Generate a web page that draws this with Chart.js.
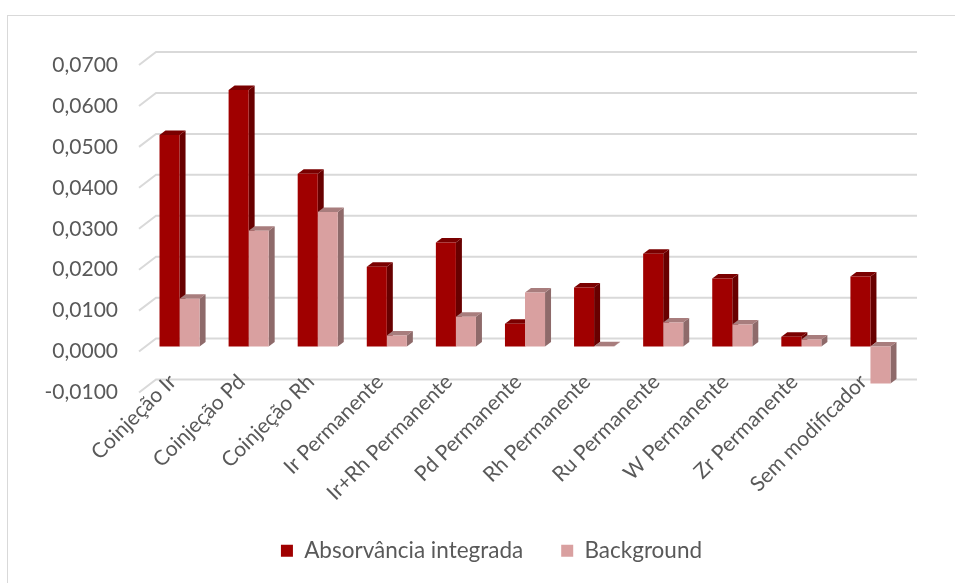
<!DOCTYPE html>
<html>
<head>
<meta charset="utf-8">
<script src="https://cdn.jsdelivr.net/npm/chart.js@4"></script>
<style>
    html, body { margin: 0; padding: 0; background: #fff; }
    #frame { position: absolute; left: 7px; top: 15px; width: 1000px; height: 620px; border: 1.5px solid #d9d9d9; }
    #wrap { position: absolute; left: 0; top: 0; width: 955px; height: 583px; }
</style>
</head>
<body>
<div id="frame"></div>
<div id="wrap"><canvas id="absChart"></canvas></div>
<script>
const categories = ['Coinjeção Ir', 'Coinjeção Pd', 'Coinjeção Rh', 'Ir Permanente', 'Ir+Rh Permanente',
    'Pd Permanente', 'Rh Permanente', 'Ru Permanente', 'W Permanente', 'Zr Permanente', 'Sem modificador'];
const absorvancia = [0.0517, 0.0627, 0.0422, 0.0195, 0.0254, 0.0056, 0.0144, 0.0227, 0.0166, 0.0024, 0.0171];
const background = [0.0117, 0.0283, 0.0329, 0.0027, 0.0073, 0.0132, 0.0001, 0.0059, 0.0054, 0.0017, -0.0090];
const yTicks = [-0.01, 0, 0.01, 0.02, 0.03, 0.04, 0.05, 0.06, 0.07];

const FONT = 'Lato, "Open Sans", sans-serif';
const TEXT = '#595959';

// faces of each 3D bar: [front, side, top]
const faces = [
    ['#a00000', '#680000', '#7a0000'],
    ['#d9a0a0', '#8e6a6a', '#a87d7d']
];

// back wall grid (under the labels) and the side/top faces of the bars
const depth3d = {
    id: 'depth3d',
    beforeDraw(chart) {
        const ctx = chart.ctx;
        const area = chart.chartArea;
        const y = chart.scales.y;
        ctx.save();
        ctx.strokeStyle = '#d9d9d9';
        ctx.lineWidth = 2;
        yTicks.forEach(v => {
            const py = y.getPixelForValue(v);
            ctx.beginPath();
            ctx.moveTo(area.left - 6, py + 5);
            ctx.lineTo(area.left + 11, py - 8);
            ctx.lineTo(area.right + 12, py - 8);
            ctx.stroke();
        });
        ctx.restore();
    },
    beforeDatasetsDraw(chart) {
        const ctx = chart.ctx;
        const dx = 6, dy = 4.5;
        ctx.save();
        chart.data.datasets.forEach((ds, di) => {
            chart.getDatasetMeta(di).data.forEach(bar => {
                const p = bar.getProps(['x', 'y', 'base', 'width'], true);
                const l = p.x - p.width / 2, r = p.x + p.width / 2;
                const top = Math.min(p.y, p.base), bot = Math.max(p.y, p.base);
                ctx.fillStyle = faces[di][1];
                ctx.beginPath();
                ctx.moveTo(r, top);
                ctx.lineTo(r + dx, top - dy);
                ctx.lineTo(r + dx, bot - dy);
                ctx.lineTo(r, bot);
                ctx.closePath();
                ctx.fill();
                ctx.fillStyle = faces[di][2];
                ctx.beginPath();
                ctx.moveTo(l, top);
                ctx.lineTo(l + dx, top - dy);
                ctx.lineTo(r + dx, top - dy);
                ctx.lineTo(r, top);
                ctx.closePath();
                ctx.fill();
            });
        });
        ctx.restore();
    }
};

new Chart(document.getElementById('absChart'), {
    type: 'bar',
    data: {
        labels: categories,
        datasets: [
            {label: 'Absorvância integrada', data: absorvancia, backgroundColor: faces[0][0]},
            {label: 'Background', data: background, backgroundColor: faces[1][0]}
        ]
    },
    options: {
        responsive: true,
        maintainAspectRatio: false,
        animation: false,
        layout: { padding: { top: 60, right: 0, bottom: 11, left: 28 } },
        datasets: { bar: { categoryPercentage: 0.58, barPercentage: 1.0 } },
        scales: {
            x: {
                grid: { display: false, drawTicks: false },
                border: { display: false },
                ticks: {
                    color: TEXT, font: { family: FONT, size: 21 },
                    maxRotation: 45, minRotation: 45, padding: -18, labelOffset: -7
                },
                afterFit(scale) {
                    scale.height = 114;
                    // labels sit partly over the floor, so don't clip them to the axis box
                    scale._computeLabelArea = () => undefined;
                }
            },
            y: {
                min: -0.01, max: 0.07,
                grid: { display: false, drawTicks: false },
                border: { display: false },
                afterBuildTicks(scale) { scale.ticks = yTicks.map(v => ({value: v})); },
                afterFit(scale) { scale.width = 117; },
                ticks: {
                    color: TEXT, font: { family: FONT, size: 21 }, padding: 27, labelOffset: 5,
                    callback: v => v.toFixed(4).replace('.', ',')
                }
            },
            // empty right-hand margin for the back wall
            yRight: {
                position: 'right',
                grid: { display: false, drawTicks: false },
                border: { display: false },
                ticks: { display: false },
                afterFit(scale) { scale.width = 50; }
            }
        },
        plugins: {
            legend: {
                position: 'bottom',
                labels: {
                    color: TEXT, font: { family: FONT, size: 22.5 },
                    boxWidth: 12, boxHeight: 12, padding: 38
                }
            },
            tooltip: { enabled: false }
        }
    },
    plugins: [depth3d]
});
</script>
</body>
</html>
